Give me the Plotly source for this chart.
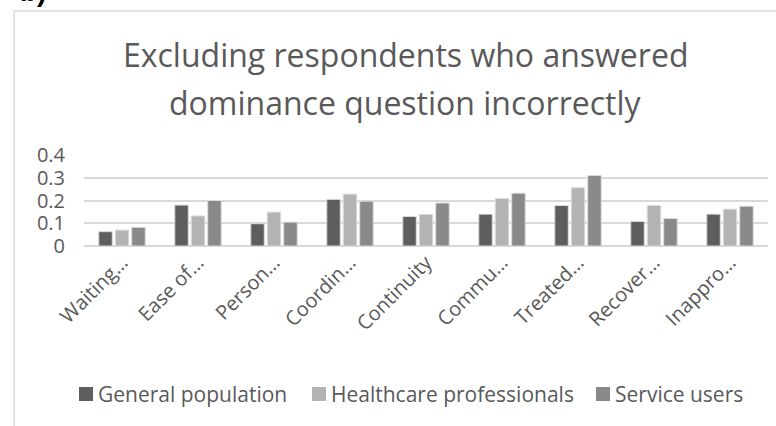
import plotly.graph_objects as go

# Attribute labels (truncated as displayed on the category axis)
categories = ["Waiting…", "Ease of…", "Person…", "Coordin…", "Continuity",
              "Commu…", "Treated…", "Recover…", "Inappro…"]

general_population = [0.063, 0.180, 0.098, 0.205, 0.130, 0.140, 0.178, 0.108, 0.140]
healthcare_professionals = [0.070, 0.132, 0.149, 0.228, 0.139, 0.209, 0.256, 0.178, 0.162]
service_users = [0.082, 0.200, 0.105, 0.197, 0.189, 0.232, 0.310, 0.121, 0.175]

series_names = ["General population", "Healthcare professionals", "Service users"]
series_colors = ["#5e5e5e", "#b3b3b3", "#898989"]

title_lines = ["Excluding respondents who answered", "dominance question incorrectly"]

W, H = 776, 426
ML, MR, MT, MB = 84, 8, 155, 180
PW, PH = W - ML - MR, H - MT - MB
TEXT = "#595959"
FONT = "Open Sans"


def px_x(x):
    return (x - ML) / PW


def px_y(y):
    return (H - MB - y) / PH


fig = go.Figure()
for name, vals, col in zip(series_names,
                           [general_population, healthcare_professionals, service_users],
                           series_colors):
    fig.add_trace(go.Bar(
        x=categories, y=vals, name=name, showlegend=False,
        marker=dict(color=col, line=dict(color="#dcdcdc", width=1)),
    ))

# chart-area frame
frame = dict(type="line", xref="paper", yref="paper",
             line=dict(color="#d9d9d9", width=1.5), layer="below")
shapes = [
    dict(frame, x0=px_x(14), x1=px_x(14), y0=px_y(11), y1=px_y(H + 5)),
    dict(frame, x0=px_x(14), x1=px_x(W + 5), y0=px_y(11), y1=px_y(11)),
]

annotations = []
for line, yc in zip(title_lines, [55, 102]):
    annotations.append(dict(
        text=line, xref="paper", yref="paper", x=px_x(405), y=px_y(yc),
        xanchor="center", yanchor="middle", showarrow=False,
        font=dict(family=FONT, size=32, color=TEXT)))

annotations.append(dict(
    text="<b>b)</b>", xref="paper", yref="paper", x=px_x(18), y=px_y(9),
    xanchor="left", yanchor="bottom", showarrow=False,
    font=dict(family="Liberation Sans", size=28, color="#000000")))

# legend row under the category labels: square swatch + label per series
legend_y = 394
legend_x = [79, 312, 596]
sq = 14
for name, col, x0 in zip(series_names, series_colors, legend_x):
    shapes.append(dict(type="rect", xref="paper", yref="paper",
                       x0=px_x(x0), x1=px_x(x0 + sq),
                       y0=px_y(legend_y + sq / 2), y1=px_y(legend_y - sq / 2),
                       fillcolor=col, line=dict(width=0)))
    annotations.append(dict(
        text=name, xref="paper", yref="paper", x=px_x(x0 + sq + 3), y=px_y(legend_y),
        xanchor="left", yanchor="middle", showarrow=False,
        font=dict(family=FONT, size=21, color=TEXT)))

fig.update_layout(
    width=W, height=H,
    margin=dict(l=ML, r=MR, t=MT, b=MB, autoexpand=False),
    paper_bgcolor="white", plot_bgcolor="white",
    font=dict(family=FONT, color=TEXT, size=20),
    barmode="group", bargap=0.35, bargroupgap=0.18,
    shapes=shapes, annotations=annotations,
    showlegend=False,
    xaxis=dict(tickangle=-45, tickfont=dict(family=FONT, size=20, color=TEXT),
               showgrid=False, showline=False, ticks=""),
    yaxis=dict(range=[0, 0.4], dtick=0.1, showgrid=True, gridcolor="#d9d9d9",
               gridwidth=1.5, zeroline=True, zerolinecolor="#d9d9d9",
               zerolinewidth=1.5, ticks="", ticklabelstandoff=18,
               tickfont=dict(family=FONT, size=20, color=TEXT)),
)

fig.write_html("out.html")
